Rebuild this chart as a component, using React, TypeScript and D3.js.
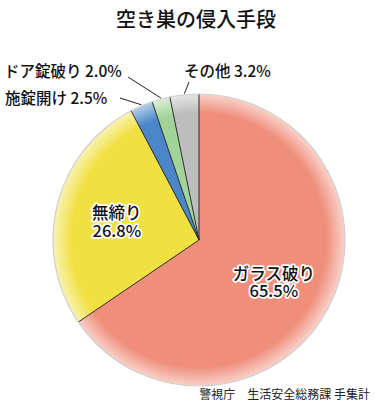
import React from 'react';
import * as d3 from 'd3';

const categories = ['ガラス破り', '無締り', '施錠開け', 'ドア錠破り', 'その他'];
const values = [65.5, 26.8, 2.5, 2.0, 3.2];
const colors = ['#EF8E7B', '#F1E042', '#4A86C9', '#A2D49A', '#BDBDBD'];
const title = '空き巣の侵入手段';
const source = '警視庁　生活安全総務課 手集計';

const W = 377;
const H = 411;
const cx = 199;
const cy = 240;
const R = 146;
const FONT = '"Noto Sans CJK JP", "Noto Sans", sans-serif';

// label placement: outside labels (text anchor + leader start)
const outside: Record<string, { tx: number; ty: number; lx: number; ly: number; anchor: string }> = {
  '施錠開け': { tx: 5, ty: 104, lx: 120, ly: 98, anchor: 'start' },
  'ドア錠破り': { tx: 4, ty: 77, lx: 128, ly: 77, anchor: 'start' },
  'その他': { tx: 184, ty: 77, lx: 189, ly: 82, anchor: 'start' },
};

export default function App() {
  const pie = d3.pie<number>().sort(null).value((d) => d)(values);
  const arc = d3.arc<d3.PieArcDatum<number>>().innerRadius(0).outerRadius(R);
  const fmt = (v: number) => `${v.toFixed(1)}%`;
  const lighten = (c: string) => d3.interpolateRgb(c, '#ffffff')(0.6);

  return (
    <svg width={W} height={H} style={{ position: 'absolute', left: 0, top: 0 }} fontFamily={FONT}>
      <defs>
        {colors.map((c, i) => (
          <radialGradient key={i} id={`g${i}`} gradientUnits="userSpaceOnUse" cx={0} cy={0} r={R}>
            <stop offset="0" stopColor={c} />
            <stop offset="0.87" stopColor={c} />
            <stop offset="1" stopColor={lighten(c)} />
          </radialGradient>
        ))}
      </defs>
      <rect width={W} height={H} fill="#fff" />
      <text x={196} y={27} textAnchor="middle" fontSize={20} fontWeight={500} fill="#111">
        {title}
      </text>
      <g transform={`translate(${cx},${cy})`}>
        {pie.map((p, i) => (
          <path key={i} d={arc(p) || ''} fill={`url(#g${i})`} />
        ))}
        {pie.map((p, i) => {
          const a = p.startAngle;
          return (
            <line
              key={'l' + i}
              x1={0}
              y1={0}
              x2={Math.sin(a) * R}
              y2={-Math.cos(a) * R}
              stroke="#1a1a1a"
              strokeWidth={0.9}
            />
          );
        })}
        <circle r={R} fill="none" stroke="#cfcfcf" strokeWidth={1.2} />
      </g>
      {pie.map((p, i) => {
        const name = categories[i];
        const mid = (p.startAngle + p.endAngle) / 2;
        const o = outside[name];
        if (o) {
          const ex = cx + Math.sin(mid) * R;
          const ey = cy - Math.cos(mid) * R;
          return (
            <g key={'t' + i}>
              <line x1={o.lx} y1={o.ly} x2={ex} y2={ey - 1} stroke="#222" strokeWidth={1} />
              <text x={o.tx} y={o.ty} fontSize={15.5} fontWeight={500} fill="#111" textAnchor={o.anchor}>
                {`${name} ${fmt(values[i])}`}
              </text>
            </g>
          );
        }
        const lr = R * 0.58;
        const x = cx + Math.sin(mid) * lr;
        const y = cy - Math.cos(mid) * lr;
        return (
          <text
            key={'t' + i}
            x={x}
            y={y}
            fontSize={16.5}
            fontWeight={500}
            textAnchor="middle"
            fill="#111"
            stroke="#fff"
            strokeWidth={3.5}
            strokeLinejoin="round"
            paintOrder="stroke"
          >
            <tspan x={x} dy={0}>{name}</tspan>
            <tspan x={x} dy={17.5}>{fmt(values[i])}</tspan>
          </text>
        );
      })}
      <text x={370} y={399} textAnchor="end" fontSize={12} fill="#222">
        {source}
      </text>
    </svg>
  );
}
